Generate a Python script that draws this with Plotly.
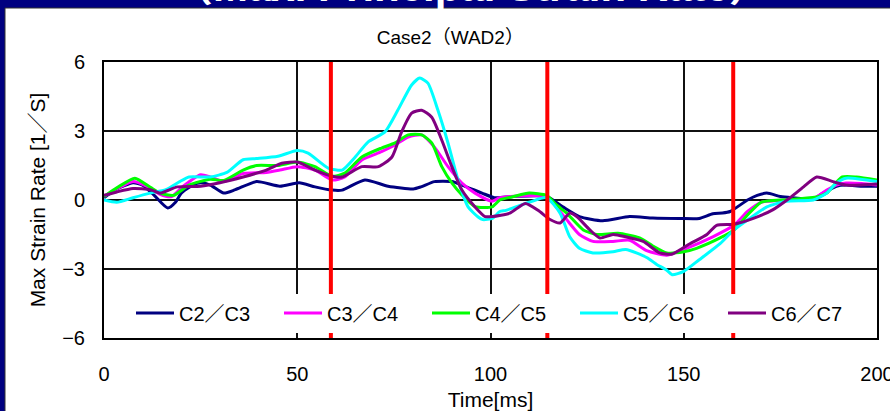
import plotly.graph_objects as go

# ---------------- data ----------------
t_c2c3 = [0, 3, 7.5, 10, 13, 16.5, 18.5, 20, 23, 25, 27.5, 31, 34, 39.5, 45.5, 50.5, 54.6, 59, 61.6, 67.5, 73.5,
          80, 82, 85.5, 90, 92.6, 97.8, 101, 106, 114.5, 118.7, 123, 129, 136, 142, 149, 154, 157.5, 160, 162,
          166.5, 169, 171.5, 175, 178, 183.5, 186, 189.5, 192, 196, 200]
v_c2c3 = [0.1, 0.45, 0.75, 0.65, 0.2, -0.35, -0.1, 0.3, 0.65, 0.75, 0.65, 0.3, 0.45, 0.8, 0.6, 0.75, 0.57, 0.43,
          0.43, 0.87, 0.6, 0.48, 0.57, 0.8, 0.8, 0.65, 0.3, 0.1, 0.15, 0.15, -0.3, -0.72, -0.9, -0.72, -0.78, -0.8,
          -0.8, -0.6, -0.57, -0.5, 0.0, 0.2, 0.3, 0.15, 0.1, 0.05, 0.3, 0.6, 0.65, 0.6, 0.6]

t_c3c4 = [0, 3.5, 7.5, 11, 14.5, 17.5, 20.5, 25, 27.5, 31, 36, 42, 45.5, 50, 54.6, 59, 62.3, 66.7, 71.8, 75.3,
          78.7, 82.2, 85.5, 89, 92.6, 96, 100.4, 102.4, 110, 114.5, 117, 119.7, 123, 126.5, 131.7, 136, 140.4,
          145.6, 150.7, 157.5, 163, 166.5, 170, 176.5, 183.5, 187, 189.5, 192, 196, 200]
v_c3c4 = [0.15, 0.5, 0.8, 0.6, 0.25, 0.15, 0.6, 1.1, 1.0, 0.8, 1.15, 1.2, 1.3, 1.45, 1.3, 0.87, 1.0, 1.74, 2.1,
          2.39, 2.74, 2.83, 2.3, 1.45, 0.74, 0.3, -0.05, 0.1, 0.2, 0.15, -0.3, -0.85, -1.5, -1.8, -1.8, -1.75,
          -2.2, -2.4, -2.1, -1.6, -1.1, -0.5, -0.1, 0.0, 0.05, 0.43, 0.65, 0.74, 0.72, 0.65]

t_c4c5 = [0, 3.5, 8, 12, 14.5, 18, 22, 27.5, 31, 36, 39.5, 45, 50, 54.6, 59, 62.3, 66.7, 71.8, 75.3, 78.7, 82.2,
          84.8, 87.4, 90, 92.6, 96, 100.4, 102.4, 106, 110, 114.5, 117, 119.7, 124, 127.5, 133, 138.6, 142,
          145.6, 150, 153.3, 159.4, 163, 166.5, 170, 175, 180, 185, 187, 191, 194.7, 200]
v_c4c5 = [0.15, 0.55, 0.95, 0.55, 0.3, 0.2, 0.65, 0.9, 0.85, 1.3, 1.5, 1.5, 1.65, 1.45, 1.03, 1.17, 1.87, 2.26,
          2.48, 2.83, 2.83, 2.48, 1.45, 0.74, 0.22, -0.29, -0.3, 0.0, 0.15, 0.3, 0.2, -0.2, -0.57, -1.3, -1.5,
          -1.45, -1.65, -2.0, -2.3, -2.25, -2.1, -1.65, -1.3, -0.65, -0.1, 0.0, 0.05, 0.15, 0.3, 1.0, 1.0, 0.87]

t_c5c6 = [0, 3.3, 7.5, 12, 16, 19.6, 22, 27.5, 31.8, 36, 39.5, 45, 50, 52.8, 58, 61.6, 65, 68.3, 72.7, 76, 79.6,
          81.7, 83.8, 86.4, 89, 91.6, 94.2, 96.8, 98, 100.5, 102.4, 104, 110, 114.5, 118, 120.5, 123, 126.5,
          131.7, 135, 140.4, 143, 145.6, 147, 150, 154, 159.4, 163, 166.5, 171.5, 176.5, 183.5, 187, 189.5,
          192, 200]
v_c5c6 = [0.0, -0.1, 0.1, 0.3, 0.45, 0.8, 1.0, 1.0, 1.2, 1.75, 1.8, 1.9, 2.15, 2.04, 1.39, 1.3, 1.87, 2.52, 2.96,
          3.9, 5.0, 5.3, 5.08, 3.9, 2.48, 0.87, -0.3, -0.74, -0.85, -0.8, -0.5, -0.45, -0.1, 0.1, -0.57, -1.6,
          -2.1, -2.3, -2.25, -2.15, -2.5, -2.8, -3.05, -3.25, -3.1, -2.6, -1.9, -1.3, -0.87, -0.3, -0.05, 0.0,
          0.3, 0.74, 0.95, 0.8]

t_c6c7 = [0, 3.3, 7.5, 12, 14.5, 19, 25, 30, 36, 42, 46, 50, 54.6, 59, 61.6, 66.7, 71, 74.5, 77, 79.6, 82.2,
          84.8, 87.4, 90, 92.6, 96, 98.6, 100.5, 105, 109, 112.3, 115.4, 118, 120.5, 122.3, 125.7, 128.3,
          131.7, 135, 139.5, 143.8, 147, 151.6, 156, 158.5, 163, 168, 173, 177.5, 181, 184.4, 188.6, 192, 200]
v_c6c7 = [0.2, 0.35, 0.5, 0.45, 0.3, 0.57, 0.6, 0.75, 1.0, 1.3, 1.6, 1.65, 1.3, 1.03, 1.0, 1.45, 1.45, 1.87,
          2.96, 3.78, 3.9, 3.6, 2.6, 1.45, 0.43, -0.3, -0.72, -0.72, -0.57, -0.15, -0.45, -0.85, -1.0, -0.57,
          -0.72, -1.3, -1.65, -1.5, -1.6, -1.8, -2.3, -2.35, -1.9, -1.5, -1.1, -1.05, -0.8, -0.43, 0.1, 0.57,
          1.0, 0.8, 0.65, 0.7]

series_names = ["C2／C3", "C3／C4", "C4／C5", "C5／C6", "C6／C7"]
series_t = [t_c2c3, t_c3c4, t_c4c5, t_c5c6, t_c6c7]
series_v = [v_c2c3, v_c3c4, v_c4c5, v_c5c6, v_c6c7]
series_colors = ["#000080", "#FF00FF", "#00FF00", "#00FFFF", "#800080"]

event_times = [58.7, 114.7, 162.8]   # red vertical markers (ms)

x_ticks = [0, 50, 100, 150, 200]
y_ticks = [-6, -3, 0, 3, 6]

# ---------------- figure ----------------
W, H = 890, 411
L, R, T, B = 104, 13, 62, 73
pw, ph = W - L - R, H - T - B

def px_x(p):
    return (p - L) / pw

def px_y(p):
    return (H - B - p) / ph

FONT = "Liberation Sans, Arial, Noto Sans CJK JP, sans-serif"

fig = go.Figure()
for name, t, v, c in zip(series_names, series_t, series_v, series_colors):
    fig.add_trace(go.Scatter(x=t, y=v, name=name, mode="lines",
                             line=dict(color=c, width=3, shape="spline", smoothing=0.6)))

shapes = [
    # white slide panel
    dict(type="rect", xref="paper", yref="paper", layer="below",
         x0=px_x(5), x1=px_x(900), y0=px_y(425), y1=px_y(8),
         fillcolor="white", line=dict(color="#333333", width=1)),
]
for et in event_times:
    shapes.append(dict(type="line", xref="x", yref="y", x0=et, x1=et, y0=-6, y1=6,
                       line=dict(color="#FF0000", width=4), layer="above"))

fig.update_layout(
    width=W, height=H,
    margin=dict(l=L, r=R, t=T, b=B, autoexpand=False),
    paper_bgcolor="#000080",
    plot_bgcolor="white",
    shapes=shapes,
    font=dict(family=FONT, color="black", size=20),
    title=dict(text="Case2（WAD2）", x=0.506, xref="container", xanchor="center",
               y=1 - 37 / H, yref="container", yanchor="middle",
               font=dict(size=19, family=FONT, color="black")),
    annotations=[dict(text="（Max. Principal Strain Rate）", xref="paper", yref="paper",
                      x=px_x(471), y=px_y(-14), xanchor="center", yanchor="middle",
                      showarrow=False,
                      font=dict(size=42, family=FONT, color="white", weight="bold"))],
    legend=dict(orientation="h", x=px_x(131), xanchor="left", y=px_y(313), yanchor="middle",
                bgcolor="white", borderwidth=0, font=dict(size=20, family=FONT),
                itemwidth=38, entrywidth=95, entrywidthmode="pixels",
                traceorder="normal", itemclick=False),
    showlegend=True,
)

fig.update_xaxes(range=[0, 200], tickvals=x_ticks, ticktext=[str(v) for v in x_ticks],
                 ticklabeloverflow="allow",
                 showgrid=True, gridcolor="#111111", gridwidth=2,
                 showline=True, mirror=True, linecolor="black", linewidth=2,
                 zeroline=False, ticks="outside", ticklen=17, tickcolor="rgba(0,0,0,0)",
                 tickfont=dict(size=20, family=FONT),
                 title=dict(text="Time[ms]", font=dict(size=21, family=FONT), standoff=18))
fig.update_yaxes(range=[-6, 6], tickvals=y_ticks, ticktext=["−6", "−3", "0", "3", "6"],
                 showgrid=True, gridcolor="#111111", gridwidth=2,
                 showline=True, mirror=True, linecolor="black", linewidth=2,
                 zeroline=False, ticks="outside", ticklen=13, tickcolor="rgba(0,0,0,0)",
                 tickfont=dict(size=20, family=FONT),
                 title=dict(text="Max Strain Rate [1／S]", font=dict(size=21, family=FONT), standoff=11))

fig.write_html("out.html", config={"displayModeBar": False},
               post_script="document.body.style.margin='0px';document.body.style.background='#000080';")
